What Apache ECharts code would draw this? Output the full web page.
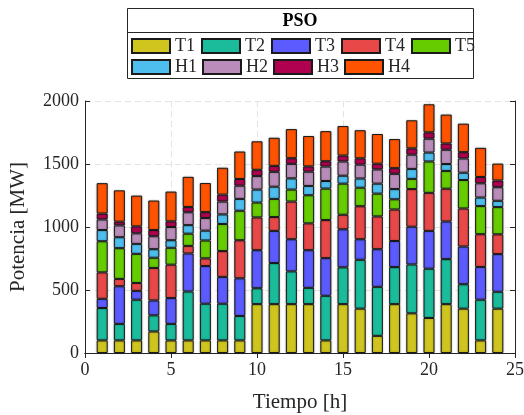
<!DOCTYPE html>
<html>
<head>
<meta charset="utf-8">
<script src="https://cdn.jsdelivr.net/npm/echarts@6/dist/echarts.min.js"></script>
<style>html,body{margin:0;padding:0;background:#fff}#c{width:524px;height:415px}</style>
</head>
<body>
<div id="c"></div>
<script>
var xCats = ['0','1','2','3','4','5','6','7','8','9','10','11','12','13','14','15','16','17','18','19','20','21','22','23','24','25'];
var hours = [1,2,3,4,5,6,7,8,9,10,11,12,13,14,15,16,17,18,19,20,21,22,23,24];
var T1 = [100,100,100,171,100,100,100,100,100,388,388,388,388,100,388,352,136,388,315,278,388,352,100,352];
var T2 = [257,131,323,128,131,388,291,291,194,126,326,260,129,354,292,388,389,294,388,391,357,194,323,134];
var T3 = [73,299,70,118,205,302,299,213,299,302,255,255,299,299,302,163,299,207,299,300,299,299,260,299];
var T4 = [210,58,63,258,265,60,61,205,302,260,110,299,213,302,115,262,260,250,299,302,260,302,260,157];
var T5 = [247,244,231,81,134,97,142,215,234,118,144,95,223,250,247,147,181,81,81,249,141,226,223,216];
var H1 = [89,87,79,68,60,68,78,76,94,103,97,89,74,60,63,73,79,81,79,71,55,58,68,50];
var H2 = [84,94,84,103,105,102,100,102,105,107,118,115,113,115,113,110,113,121,113,110,113,113,113,108];
var H3 = [47,29,55,49,45,42,47,55,53,50,47,45,42,42,47,50,45,45,50,50,50,50,50,53];
var H4 = [241,249,244,234,236,239,231,213,218,226,223,231,241,239,234,223,236,231,223,223,229,226,231,134];
var names = ['T1','T2','T3','T4','T5','H1','H2','H3','H4'];
var colors = ['#CFC51E','#1ABC9C','#5B5BFF','#E84848','#66CC00','#4DBEEE','#B98CBA','#B00050','#FF5300'];
var xTickLabels = ['0','5','10','15','20','25'];
var yTickLabels = ['0','500','1000','1500','2000'];

var seriesData = [T1,T2,T3,T4,T5,H1,H2,H3,H4];
var font = '"Liberation Serif", "Times New Roman", serif';
var series = names.map(function(n, i){
  var d = xCats.map(function(c){
    var k = hours.indexOf(Number(c));
    return k < 0 ? '-' : seriesData[i][k];
  });
  return {
    name: n, type: 'bar', stack: 'p', barWidth: 11,
    data: d,
    itemStyle: {color: colors[i], borderColor: '#1a1a1a', borderWidth: 1,
      shadowBlur: 2, shadowColor: 'rgba(0,0,0,0.3)'},
    emphasis: {disabled: true}, animation: false
  };
});

var chart = echarts.init(document.getElementById('c'), null, {renderer: 'canvas'});
var axisLine = {show: true, lineStyle: {color: '#262626', width: 1}};
var tickStyle = {show: true, inside: true, length: 5, lineStyle: {color: '#262626'}};
function showX(idx, val){ return xTickLabels.indexOf(val) >= 0; }
var legendCommon = {
  left: 131, itemWidth: 38, itemHeight: 14, icon: 'rect',
  textStyle: {fontFamily: font, fontSize: 18, color: '#262626'},
  selectedMode: false, padding: 0
};
chart.setOption({
  animation: false,
  textStyle: {fontFamily: font},
  grid: {left: 85, right: 9, top: 101, bottom: 62, containLabel: false, outerBoundsMode: 'none'},
  legend: [
    Object.assign({}, legendCommon, {top: 37, itemGap: 6, data: names.slice(0,5)}),
    Object.assign({}, legendCommon, {top: 58, itemGap: 5, data: names.slice(5)})
  ],
  graphic: [
    {type: 'rect', shape: {x: 127.5, y: 8.5, width: 346, height: 70}, style: {fill: 'none', stroke: '#262626', lineWidth: 1}, z: 10},
    {type: 'line', shape: {x1: 127.5, y1: 32.5, x2: 473.5, y2: 32.5}, style: {stroke: '#262626', lineWidth: 1}, z: 10},
    {type: 'text', x: 300, y: 21, style: {text: 'PSO', font: 'bold 18px "Liberation Serif"', fill: '#000', textAlign: 'center', textVerticalAlign: 'middle'}, z: 10}
  ],
  xAxis: [{
    type: 'category', data: xCats, boundaryGap: false,
    name: 'Tiempo [h]', nameLocation: 'middle', nameGap: 39,
    nameTextStyle: {fontFamily: font, fontSize: 21, color: '#262626'},
    axisLine: axisLine,
    axisTick: Object.assign({}, tickStyle, {interval: showX}),
    axisLabel: {fontFamily: font, fontSize: 18, color: '#262626', margin: 8, interval: showX},
    splitLine: {show: true, interval: showX, lineStyle: {color: '#e3e3e3', type: [6,4]}}
  },{
    type: 'category', data: xCats, boundaryGap: false, position: 'top',
    axisLine: axisLine,
    axisTick: Object.assign({}, tickStyle, {interval: showX}),
    axisLabel: {show: false}, splitLine: {show: false}
  }],
  yAxis: [{
    type: 'value', min: 0, max: 2000, interval: 500,
    name: 'Potencia [MW]', nameLocation: 'middle', nameGap: 56,
    nameTextStyle: {fontFamily: font, fontSize: 21, color: '#262626'},
    axisLine: axisLine,
    axisTick: tickStyle,
    axisLabel: {fontFamily: font, fontSize: 18, color: '#262626', margin: 6,
      formatter: function(v){ return yTickLabels[Math.round(v/500)] || String(v); }},
    splitLine: {show: true, lineStyle: {color: '#e3e3e3', type: [6,4]}}
  },{
    type: 'value', min: 0, max: 2000, interval: 500, position: 'right',
    axisLine: axisLine,
    axisTick: tickStyle,
    axisLabel: {show: false}, splitLine: {show: false}
  }],
  series: series
});
</script>
</body>
</html>
